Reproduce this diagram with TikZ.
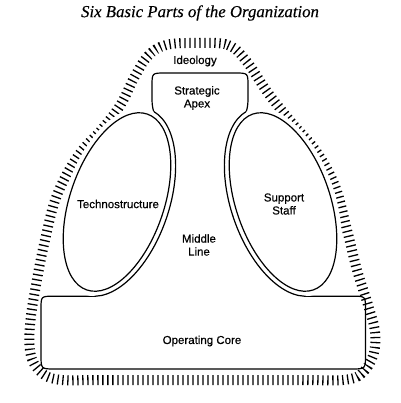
\documentclass[tikz,border=0pt]{standalone}
\usepackage{fontspec}
\setmainfont{Liberation Serif}
\newfontfamily\titlefont[FakeBold=0.4]{Liberation Serif}
\newfontfamily\lsans[FakeBold=0.5]{Liberation Sans}
\begin{document}
\begin{tikzpicture}[x=1pt,y=-1pt,
  lbl/.style={font=\lsans\fontsize{11.5}{13}\selectfont, align=center, inner sep=0pt},
  ticks/.style={line width=10pt, dash pattern=on 1.3pt off 3.7pt},
  part/.style={line width=1.2pt}]
\useasboundingbox (0,0) rectangle (400,403);
% title
\node[font=\titlefont\itshape\fontsize{16.8}{19}\selectfont, inner sep=0pt] (title) at (200,13) {Six Basic Parts of the Organization};
% ideology band
\draw[ticks] plot[smooth cycle, tension=0.6] coordinates {
 (195,43) (228,45) (247,62) (268,93) (292,123) (316,151) (335,186) (347,230)
 (357,270) (368,305) (375,332) (373,356) (361,374) (343,380) (300,380) (200,380)
 (100,380) (62,380) (43,374) (31,356) (30,325) (36,285) (45,240) (57,195)
 (78,156) (103,128) (121,104) (134,78) (148,56) (166,45)};
% central region (apex + middle line + operating core)
\def\Rpath{(117,202) -- (164,140) .. controls (157,120) and (152,112) .. (152,100)
 -- (152,86) .. controls (152,73) .. (165,73) -- (235,73) .. controls (248,73) .. (248,86)
 -- (248,100) .. controls (248,112) and (243,120) .. (236,140) -- (283,202)
 -- (305.5,280) -- (305.5,296.2) -- (352,296.2) .. controls (365.5,296.2) .. (365.5,309)
 -- (365.5,355) .. controls (365.5,369) .. (351,369) -- (55,369) .. controls (41,369) .. (41,355)
 -- (41,309) .. controls (41,296.2) .. (54,296.2) -- (94.5,296.2) -- (94.5,280) -- cycle}
\draw[part] \Rpath;
\fill[white, rotate around={71:(117,202)}] (117,202) ellipse [x radius=98pt, y radius=52pt];
\fill[white, rotate around={-71:(283,202)}] (283,202) ellipse [x radius=98pt, y radius=52pt];
\begin{scope}
 \clip \Rpath;
 \draw[part, rotate around={71:(117,202)}] (117,202) ellipse [x radius=98pt, y radius=52pt];
 \draw[part, rotate around={-71:(283,202)}] (283,202) ellipse [x radius=98pt, y radius=52pt];
\end{scope}
% technostructure and support staff
\draw[part, rotate around={71:(117,202)}] (117,202) ellipse [x radius=93pt, y radius=47pt];
\draw[part, rotate around={-71:(283,202)}] (283,202) ellipse [x radius=93pt, y radius=47pt];
% labels
\node[lbl] (ideo) at (195,61) {Ideology};
\node[lbl] (apex) at (197,98) {Strategic\\Apex};
\node[lbl] (techno) at (118,204) {Technostructure};
\node[lbl] (support) at (284,204) {Support\\Staff};
\node[lbl] (middle) at (199,245) {Middle\\Line};
\node[lbl] (core) at (202,341) {Operating Core};
\end{tikzpicture}
\end{document}
